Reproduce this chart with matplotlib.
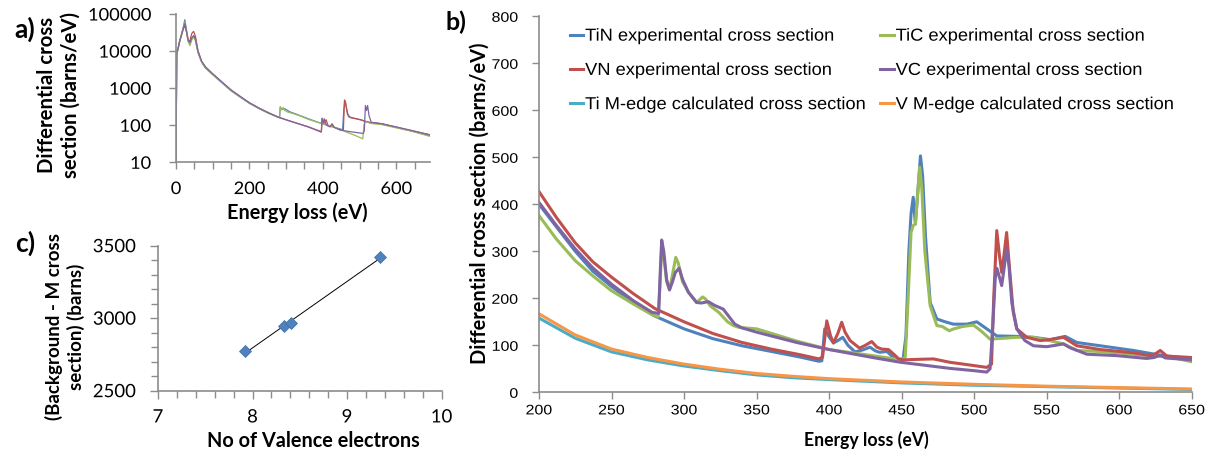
import matplotlib
matplotlib.use("Agg")
import matplotlib.pyplot as plt
from matplotlib import font_manager
from matplotlib.patheffects import AbstractPathEffect
from matplotlib.ticker import FixedLocator, MultipleLocator, NullLocator
from matplotlib.transforms import Affine2D
import numpy as np

names = {f.name for f in font_manager.fontManager.ttflist}
wide = "Lato" if "Lato" in names else "DejaVu Sans"
arial = "Liberation Sans" if "Liberation Sans" in names else "DejaVu Sans"

blue, red, green, purple, aqua, orange = "#4F81BD", "#C0504D", "#9BBB59", "#8064A2", "#4BACC6", "#F79646"
axis_col = "#8c8c8c"

# ---- panel a: full spectra (log scale)
a_early_x = [0, 2, 5, 10, 15, 20, 24, 28, 33, 38, 43, 48, 53, 60, 70, 80, 100, 125, 150, 175, 200, 225, 250, 278]
a_blue_early = [10, 9000, 11000, 18000, 28000, 45000, 70000, 40000, 20000, 16000, 22000, 26000, 20000, 9000, 5000, 3500, 2300, 1400, 850, 570, 390, 285, 215, 165]
a_red_early = [10, 9000, 11000, 19000, 28000, 40000, 48000, 35000, 19000, 19000, 30000, 34000, 25000, 10000, 5200, 3700, 2400, 1450, 880, 590, 400, 292, 220, 165]
a_green_early = [10, 8500, 10500, 18000, 27000, 42000, 60000, 38000, 18000, 14000, 20000, 24000, 19000, 9000, 5000, 3600, 2350, 1420, 860, 580, 395, 290, 218, 163]
a_purple_early = [10, 9000, 11000, 18500, 27000, 40000, 55000, 36000, 20000, 17000, 23000, 26000, 21000, 10000, 5300, 3800, 2450, 1480, 900, 600, 405, 295, 222, 167]

a_blue_late_x = [282, 284, 290, 296, 310, 330, 360, 400, 430, 454, 457, 460, 464, 470, 490, 512, 530, 560, 600, 640, 692]
a_blue_late_y = [160, 300, 270, 280, 230, 195, 150, 108, 88, 76, 250, 460, 300, 170, 150, 132, 118, 108, 88, 70, 52]
a_green_late_x = [282, 284, 288, 292, 296, 305, 320, 340, 360, 380, 400, 430, 460, 490, 509, 512, 515, 530, 560, 600, 640, 692]
a_green_late_y = [160, 320, 260, 300, 250, 225, 205, 175, 145, 125, 110, 90, 68, 52, 43, 100, 125, 112, 104, 85, 70, 50]
a_red_late_x = [300, 330, 360, 396, 398, 402, 405, 409, 414, 420, 425, 431, 440, 450, 456, 459, 462, 467, 475, 490, 505, 515, 530, 560, 600, 640, 692]
a_red_late_y = [140, 112, 90, 65, 150, 110, 120, 140, 100, 92, 110, 88, 80, 72, 75, 480, 420, 200, 160, 150, 140, 125, 118, 110, 88, 72, 55]
a_purple_late_x = [300, 330, 360, 396, 398, 401, 404, 408, 414, 420, 425, 431, 440, 455, 470, 490, 510, 513, 516, 519, 522, 526, 532, 560, 600, 640, 692]
a_purple_late_y = [140, 113, 91, 67, 155, 120, 150, 110, 95, 90, 105, 88, 80, 72, 68, 64, 60, 70, 340, 250, 340, 180, 120, 110, 90, 73, 55]

# ---- panel b: edge region
tin_x = [200, 212, 225, 237, 250, 265, 280, 300, 320, 340, 360, 380, 393, 395, 397, 400, 403, 406, 409.4, 413, 417.9, 423, 428.2, 432, 435, 439.8, 443, 446.6, 451, 453, 455, 456.5, 458, 459.5, 461, 463, 464.5, 466.5, 469.7, 474.3, 480, 485.7, 495, 501.8, 508.7, 515.6, 529.4, 540.9, 552.4, 562.8, 570.8, 586.9, 609.9, 628.3, 650]
tin_y = [400, 352, 300, 258, 225, 190, 162, 135, 114, 99, 87, 75, 66, 67, 135, 118, 105, 110, 117, 100, 86, 90, 96, 88, 85, 87, 78, 71, 70, 120, 300, 380, 415, 358, 420, 503, 460, 330, 191, 156, 150, 145, 145, 150, 135, 120, 119, 117, 112, 119, 106, 99, 89, 79, 71]
tic_x = [200, 212, 225, 237, 250, 265, 278, 282, 283.5, 284.6, 286, 288, 290, 292, 294.3, 296, 299, 303, 308.7, 312.8, 315, 318, 324, 330, 334, 338, 350, 377.6, 400, 430, 450, 452.5, 454.5, 456.5, 458, 459.5, 461, 462.5, 464, 466, 469.7, 474.3, 478, 482.8, 486, 492, 499.5, 505, 511, 520, 529.4, 540.9, 552, 561.6, 571, 585, 598, 621, 635, 650]
tic_y = [376, 326, 280, 248, 216, 188, 165, 160, 230, 315, 290, 235, 218, 250, 287, 275, 235, 213, 191, 203, 198, 184, 170, 150, 142, 138, 135, 109, 91, 78, 69, 75, 200, 340, 355, 358, 420, 479, 430, 300, 184, 142, 140, 131, 135, 140, 143, 130, 113, 115, 117, 117, 110, 103, 89, 87, 84, 78, 75, 65]
vn_x = [200, 212, 225, 237, 250, 265, 280, 300, 320, 340, 360, 380, 393, 395.5, 398.4, 401, 403, 406, 408.7, 411, 414.5, 421, 425, 429.4, 433, 436.3, 440.9, 445, 448, 451, 460, 472, 483, 499.5, 508.7, 512, 513.5, 515.6, 517.5, 519, 520.5, 522.4, 524.5, 527, 529.4, 536.3, 545.5, 552, 561.6, 570.8, 586.9, 609.9, 621.4, 625, 628.3, 632.9, 650]
vn_y = [427, 372, 318, 278, 245, 210, 178, 150, 125, 106, 92, 80, 71, 75, 152, 120, 105, 125, 149, 128, 110, 94, 100, 108, 96, 92, 91, 80, 71, 69, 70, 71, 64, 57, 53, 60, 200, 344, 290, 255, 290, 340, 260, 170, 135, 117, 110, 112, 117, 99, 91, 84, 78, 82, 89, 77, 74]
vc_x = [200, 212, 225, 237, 250, 265, 278, 282.5, 283.5, 284.6, 286, 288, 290, 292, 294, 296.6, 299, 303, 308.7, 312, 316.7, 321, 327, 330, 335, 340, 350, 377.6, 400, 430, 449, 483, 500, 508.7, 511, 513, 514.5, 515.6, 517, 519, 520.5, 522.4, 524, 526, 529.4, 535, 540.9, 550, 556, 561.6, 566, 577.7, 598.4, 619, 624, 628.3, 632, 650]
vc_y = [404, 355, 305, 265, 230, 195, 170, 168, 250, 324, 300, 240, 218, 235, 255, 264, 240, 213, 191, 190, 193, 185, 177, 165, 145, 137, 128, 106, 91, 74, 64, 51, 46, 43, 50, 150, 240, 264, 250, 227, 260, 305, 270, 190, 135, 110, 99, 97, 100, 103, 95, 81, 78, 72, 74, 79, 73, 69]
m_x = [200, 225, 250, 275, 300, 325, 350, 375, 400, 450, 500, 550, 600, 650]
ti_m_y = [158, 115, 86, 69, 56, 46, 37, 31, 27, 20, 15, 12, 9, 6]
v_m_y = [167, 122, 92, 74, 60, 49, 40, 34, 29, 22, 17, 13, 10, 7]

# ---- panel c
valence = [7.92, 8.33, 8.41, 9.35]
bg_minus_m = [2771, 2946, 2964, 3420]


class Stretch(AbstractPathEffect):
    """Scale text horizontally (the panels of the source figure were resized unevenly)."""

    def __init__(self, sx, anchor="center"):
        super().__init__()
        self.sx, self.anchor = sx, anchor

    def draw_path(self, renderer, gc, tpath, affine, rgbFace=None):
        ext = tpath.get_extents(affine)
        x0 = {"left": ext.x0, "center": (ext.x0 + ext.x1) / 2, "right": ext.x1}[self.anchor]
        sq = Affine2D().translate(-x0, 0).scale(self.sx, 1).translate(x0, 0)
        renderer.draw_path(gc, tpath, affine + sq, rgbFace)


W, H = 1211, 456
fig = plt.figure(figsize=(W / 100, H / 100), dpi=100)
renderer = fig.canvas.get_renderer()


def text_width(s, family, size, weight="normal"):
    t = fig.text(0, 0, s, family=family, fontsize=size, fontweight=weight)
    w = t.get_window_extent(renderer).width
    t.remove()
    return w


def fit_size(lines, family, weight, target, ref=12):
    w = max(text_width(s, family, ref, weight) for s in lines)
    return ref * target / w


def box(l, t, r, b):
    return [l / W, 1 - b / H, (r - l) / W, (b - t) / H]


def style(ax):
    for s in ["top", "right"]:
        ax.spines[s].set_visible(False)
    for s in ["left", "bottom"]:
        ax.spines[s].set_color(axis_col)
        ax.spines[s].set_linewidth(1.2)
    ax.tick_params(which="both", direction="out", color=axis_col, width=1)


def tick_fonts(ax, family, size, sx):
    for t in ax.get_xticklabels():
        t.set_fontfamily(family)
        t.set_fontsize(size)
        t.set_path_effects([Stretch(sx, "center")])
    for t in ax.get_yticklabels():
        t.set_fontfamily(family)
        t.set_fontsize(size)
        t.set_path_effects([Stretch(sx, "right")])


# panel a
ax_a = fig.add_axes(box(176, 15, 430, 163.3))
style(ax_a)
lw_a = 0.9
ax_a.plot(a_early_x + a_blue_late_x, a_blue_early + a_blue_late_y, color=blue, lw=lw_a)
ax_a.plot(a_early_x + a_red_late_x, a_red_early + a_red_late_y, color=red, lw=lw_a)
ax_a.plot(a_early_x + a_green_late_x, a_green_early + a_green_late_y, color=green, lw=lw_a)
ax_a.plot(a_early_x + a_purple_late_x, a_purple_early + a_purple_late_y, color=purple, lw=lw_a)
ax_a.set_yscale("log")
ax_a.set_ylim(10, 100000)
ax_a.set_xlim(0, 692)
ax_a.yaxis.set_major_locator(FixedLocator([10, 100, 1000, 10000, 100000]))
ax_a.yaxis.set_minor_locator(NullLocator())
ax_a.set_yticklabels(["10", "100", "1000", "10000", "100000"])
ax_a.xaxis.set_major_locator(FixedLocator([0, 200, 400, 600]))
ax_a.xaxis.set_minor_locator(MultipleLocator(50))
ax_a.tick_params(which="both", length=5)
ax_a.tick_params(axis="y", which="major", pad=13)
ax_a.tick_params(axis="x", which="major", pad=8.5)
tick_fonts(ax_a, wide, 12.5, 63 / text_width("100000", wide, 12.5))

# panel c
ax_c = fig.add_axes(box(158, 246.7, 441.5, 391.7))
style(ax_c)
fit = np.polyfit(valence, bg_minus_m, 1)
xs = np.array([min(valence), max(valence)])
ax_c.plot(xs, np.polyval(fit, xs), color="black", lw=0.7, zorder=2)
ax_c.plot(valence, bg_minus_m, ls="none", marker="D", ms=6.5, color="#4F81BD", mec="#3f6fa8", mew=0.5, zorder=3)
ax_c.set_xlim(7, 10)
ax_c.set_ylim(2500, 3500)
ax_c.xaxis.set_major_locator(MultipleLocator(1))
ax_c.xaxis.set_minor_locator(MultipleLocator(0.2))
ax_c.yaxis.set_major_locator(MultipleLocator(500))
ax_c.yaxis.set_minor_locator(MultipleLocator(100))
ax_c.tick_params(which="major", length=6)
ax_c.tick_params(which="minor", length=5)
ax_c.tick_params(axis="y", which="major", pad=10)
ax_c.tick_params(axis="x", which="major", pad=7.5)
tick_fonts(ax_c, wide, 13.3, 43 / text_width("3500", wide, 13.3))

# panel b
ax_b = fig.add_axes(box(539, 17.3, 1191.7, 393.3))
style(ax_b)
lw_b = 2.2
h_tin, = ax_b.plot(tin_x, tin_y, color=blue, lw=lw_b, label="TiN experimental cross section")
h_tic, = ax_b.plot(tic_x, tic_y, color=green, lw=lw_b, label="TiC experimental cross section")
h_vn, = ax_b.plot(vn_x, vn_y, color=red, lw=lw_b, label="VN experimental cross section")
h_vc, = ax_b.plot(vc_x, vc_y, color=purple, lw=lw_b, label="VC experimental cross section")
h_tim, = ax_b.plot(m_x, ti_m_y, color=aqua, lw=lw_b, label="Ti M-edge calculated cross section")
h_vm, = ax_b.plot(m_x, v_m_y, color=orange, lw=lw_b, label="V M-edge calculated cross section")
ax_b.set_xlim(200, 650)
ax_b.set_ylim(0, 800)
ax_b.xaxis.set_major_locator(MultipleLocator(50))
ax_b.yaxis.set_major_locator(MultipleLocator(100))
ax_b.tick_params(length=5)
ax_b.tick_params(axis="y", pad=10)
ax_b.tick_params(axis="x", pad=3)
tick_fonts(ax_b, arial, 10, 26.7 / text_width("500", arial, 10))

leg_size = 12.5
leg_sx = 250 / text_width("TiN experimental cross section", arial, leg_size)
leg_kw = dict(frameon=False, loc="upper left", bbox_transform=fig.transFigure, borderaxespad=0, borderpad=0,
              handlelength=0.8, handletextpad=0.1, labelspacing=1.1, prop={"family": arial, "size": leg_size})
leg1 = ax_b.legend(handles=[h_tin, h_vn, h_tim], bbox_to_anchor=(569.5 / W, 1 - 29.5 / H), **leg_kw)
ax_b.add_artist(leg1)
leg2 = ax_b.legend(handles=[h_tic, h_vc, h_vm], bbox_to_anchor=(880 / W, 1 - 29.5 / H), **leg_kw)
for lg in (leg1, leg2):
    for t in lg.get_texts():
        t.set_path_effects([Stretch(leg_sx, "left")])

# axis titles
ylab_a = ["Differential cross", "section (barns/eV)"]
fig.text(59 / W, 1 - 94.5 / H, "\n".join(ylab_a), rotation=90, ha="center", va="center",
         fontsize=fit_size(ylab_a, wide, "bold", 165), fontweight="bold", family=wide)
fig.text(297 / W, 1 - 213 / H, "Energy loss (eV)", ha="center", va="center",
         fontsize=fit_size(["Energy loss (eV)"], wide, "bold", 140), fontweight="bold", family=wide)
ylab_c = ["(Background - M cross", "section) (barns)"]
fig.text(65 / W, 1 - 327 / H, "\n".join(ylab_c), rotation=90, ha="center", va="center",
         fontsize=fit_size(ylab_c, wide, "bold", 187), fontweight="bold", family=wide)
fig.text(313 / W, 1 - 441 / H, "No of Valence electrons", ha="center", va="center",
         fontsize=fit_size(["No of Valence electrons"], wide, "bold", 211), fontweight="bold", family=wide)
fig.text(480 / W, 1 - 203 / H, "Differential cross section (barns/eV)", rotation=90, ha="center", va="center",
         fontsize=fit_size(["Differential cross section (barns/eV)"], wide, "bold", 320), fontweight="bold", family=wide)
fig.text(866 / W, 1 - 440 / H, "Energy loss (eV)", ha="center", va="center",
         fontsize=fit_size(["Energy loss (eV)"], wide, "bold", 124), fontweight="bold", family=wide)

# panel letters
fig.text(25 / W, 1 - 29 / H, "a)", ha="center", va="center", fontsize=19, fontweight="bold", family=wide)
fig.text(456 / W, 1 - 22 / H, "b)", ha="center", va="center", fontsize=18, fontweight="bold", family=wide)
fig.text(25 / W, 1 - 243 / H, "c)", ha="center", va="center", fontsize=19, fontweight="bold", family=wide)

fig.savefig("out.png", dpi=100)
